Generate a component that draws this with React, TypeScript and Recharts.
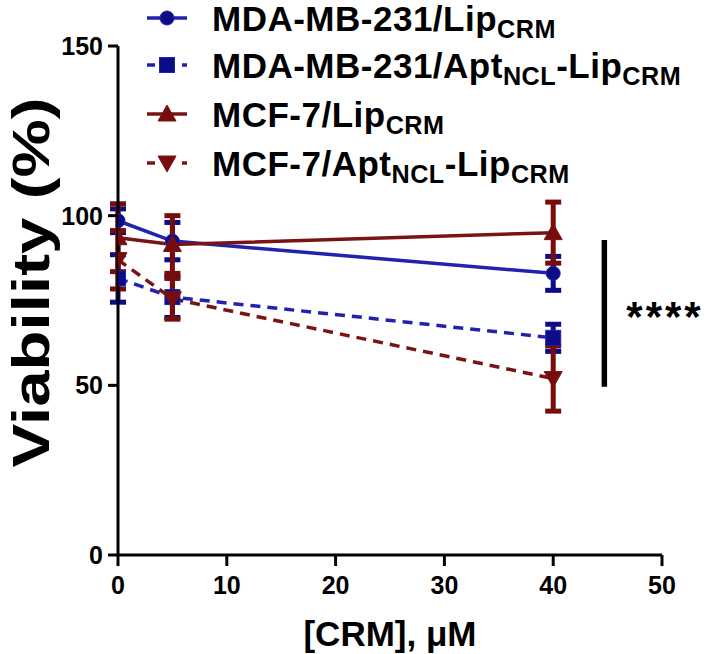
import React from 'react';
import { LineChart, Line, XAxis, YAxis, ErrorBar, ReferenceLine, Legend, Label } from 'recharts';

const concentrations = [0, 5, 40];
const mdaLip = [98.5, 92.5, 83];
const mdaLipErr = [3.5, 5.5, 5];
const mdaApt = [81.5, 76, 64];
const mdaAptErr = [7, 6, 4];
const mcfLip = [93.5, 91.5, 95];
const mcfLipErr = [10, 8.5, 9];
const mcfApt = [87, 75.5, 52];
const mcfAptErr = [8.6, 6, 9.6];

const xTicks = [0, 10, 20, 30, 40, 50];
const yTicks = [0, 50, 100, 150];

const sigX = 44.7;
const sigTop = 92.8;
const sigBottom = 49.6;
const sigText = '****';

const tableData = concentrations.map((c, i) => ({
  x: c,
  mdaLip: mdaLip[i],
  mdaLipErr: mdaLipErr[i],
  mdaApt: mdaApt[i],
  mdaAptErr: mdaAptErr[i],
  mcfLip: mcfLip[i],
  mcfLipErr: mcfLipErr[i],
  mcfApt: mcfApt[i],
  mcfAptErr: mcfAptErr[i],
}));

const BLUE_LINE = '#2222ae';
const BLUE_MARK = '#0c0c86';
const RED_LINE = '#7a1414';
const RED_MARK = '#760c0c';
const FONT = '"Liberation Sans", Arial, Helvetica, sans-serif';

type Shape = 'circle' | 'square' | 'up' | 'down';

const series: { key: string; shape: Shape; line: string; mark: string; dashed: boolean; label: [string, boolean][] }[] = [
  { key: 'mdaLip', shape: 'circle', line: BLUE_LINE, mark: BLUE_MARK, dashed: false, label: [['MDA-MB-231/Lip', false], ['CRM', true]] },
  { key: 'mdaApt', shape: 'square', line: BLUE_LINE, mark: BLUE_MARK, dashed: true, label: [['MDA-MB-231/Apt', false], ['NCL', true], ['-Lip', false], ['CRM', true]] },
  { key: 'mcfLip', shape: 'up', line: RED_LINE, mark: RED_MARK, dashed: false, label: [['MCF-7/Lip', false], ['CRM', true]] },
  { key: 'mcfApt', shape: 'down', line: RED_LINE, mark: RED_MARK, dashed: true, label: [['MCF-7/Apt', false], ['NCL', true], ['-Lip', false], ['CRM', true]] },
];

function Marker({ shape, cx, cy, fill, stroke }: { shape: Shape; cx: number; cy: number; fill: string; stroke: string }) {
  if (cx == null || cy == null) return null;
  if (shape === 'circle') return <circle cx={cx} cy={cy} r={7} fill={fill} stroke={stroke} strokeWidth={1} />;
  if (shape === 'square') return <rect x={cx - 7.5} y={cy - 7.5} width={15} height={15} fill={fill} stroke={stroke} strokeWidth={1} />;
  if (shape === 'up') return <path d={`M${cx},${cy - 9} L${cx + 9},${cy + 7} L${cx - 9},${cy + 7} Z`} fill={fill} stroke={stroke} strokeWidth={1} />;
  return <path d={`M${cx},${cy + 9} L${cx + 9},${cy - 7} L${cx - 9},${cy - 7} Z`} fill={fill} stroke={stroke} strokeWidth={1} />;
}

const legendRowCenters = [18, 65, 114, 163];
const ROW_H = 36;

function LegendContent() {
  return (
    <div style={{ position: 'relative', width: 708, height: 0 }}>
      {series.map((s, i) => (
        <div
          key={s.key}
          style={{
            position: 'absolute',
            left: 147,
            top: legendRowCenters[i] - ROW_H / 2,
            height: ROW_H,
            display: 'flex',
            alignItems: 'center',
            whiteSpace: 'nowrap',
          }}
        >
          <svg width={40} height={ROW_H} style={{ display: 'block' }}>
            {s.dashed ? (
              <>
                <line x1={0} y1={ROW_H / 2} x2={8} y2={ROW_H / 2} stroke={s.line} strokeWidth={3.5} />
                <line x1={35} y1={ROW_H / 2} x2={40} y2={ROW_H / 2} stroke={s.line} strokeWidth={3.5} />
              </>
            ) : (
              <line x1={0} y1={ROW_H / 2} x2={40} y2={ROW_H / 2} stroke={s.line} strokeWidth={3.5} />
            )}
            <Marker shape={s.shape} cx={20} cy={ROW_H / 2} fill={s.mark} stroke={s.line} />
          </svg>
          <span
            style={{
              marginLeft: 25,
              fontFamily: FONT,
              fontWeight: 'bold',
              fontSize: 35,
              letterSpacing: 0.5,
              lineHeight: 1,
              color: '#000',
            }}
          >
            {s.label.map(([t, sub], j) =>
              sub ? (
                <span key={j} style={{ fontSize: '0.72em', position: 'relative', top: '0.3em' }}>{t}</span>
              ) : (
                <span key={j}>{t}</span>
              )
            )}
          </span>
        </div>
      ))}
    </div>
  );
}

function YAxisTitle(props: any) {
  const vb = props.viewBox || {};
  const x = vb.x + 31;
  const y = vb.y + vb.height / 2 - 18;
  return (
    <text
      x={x}
      y={y}
      transform={`rotate(-90, ${x}, ${y})`}
      textAnchor="middle"
      dominantBaseline="central"
      fontFamily={FONT}
      fontWeight="bold"
      fontSize={52}
      textLength={370}
      lengthAdjust="spacingAndGlyphs"
      fill="#000"
    >
      Viability (%)
    </text>
  );
}

function XAxisTitle(props: any) {
  const vb = props.viewBox || {};
  const x = vb.x + vb.width / 2;
  const y = vb.y + 91;
  return (
    <text x={x} y={y} textAnchor="middle" fontFamily={FONT} fontWeight="bold" fontSize={35} fill="#000">
      [CRM], μM
    </text>
  );
}

function SigLabel(props: any) {
  const vb = props.viewBox || {};
  const x = vb.x + 22;
  const y = vb.y + (vb.height || 0) / 2 + 18;
  return (
    <text x={x} y={y} fontFamily={FONT} fontWeight="bold" fontSize={42} letterSpacing={3} fill="#000">
      {sigText}
    </text>
  );
}

const tickStyle = { fill: '#000', fontSize: 25, fontWeight: 'bold', fontFamily: FONT };

export default function App() {
  return (
    <div style={{ position: 'absolute', left: 0, top: 0, width: 708, height: 654, background: '#fff' }}>
      <LineChart width={708} height={654} data={tableData} margin={{ top: 46, right: 46, bottom: 0, left: 0 }}>
        <XAxis
          type="number"
          dataKey="x"
          domain={[0, 50]}
          ticks={xTicks}
          allowDataOverflow
          height={99}
          axisLine={{ stroke: '#000', strokeWidth: 3 }}
          tickLine={{ stroke: '#000', strokeWidth: 3 }}
          tickSize={11}
          tickMargin={10}
          tick={tickStyle}
        >
          <Label content={<XAxisTitle />} />
        </XAxis>
        <YAxis
          type="number"
          domain={[0, 150]}
          ticks={yTicks}
          width={118}
          axisLine={{ stroke: '#000', strokeWidth: 3 }}
          tickLine={{ stroke: '#000', strokeWidth: 3 }}
          tickSize={10}
          tickMargin={5}
          tick={tickStyle}
        >
          <Label content={<YAxisTitle />} />
        </YAxis>
        <Legend
          layout="vertical"
          align="center"
          verticalAlign="middle"
          content={<LegendContent />}
          wrapperStyle={{ top: 0, left: 0, width: 708, height: 0 }}
        />
        {series.map((s) => (
          <Line
            key={s.key}
            type="linear"
            dataKey={s.key}
            stroke={s.line}
            strokeWidth={3.5}
            strokeDasharray={s.dashed ? '10 7' : undefined}
            isAnimationActive={false}
            activeDot={false}
            dot={(p: any) => (
              <Marker key={`${s.key}-${p.index}`} shape={s.shape} cx={p.cx} cy={p.cy} fill={s.mark} stroke={s.line} />
            )}
          >
            <ErrorBar dataKey={`${s.key}Err`} direction="y" width={8} stroke={s.mark} strokeWidth={5} isAnimationActive={false} />
          </Line>
        ))}
        <ReferenceLine
          segment={[{ x: sigX, y: sigTop }, { x: sigX, y: sigBottom }]}
          stroke="#000"
          strokeWidth={5.5}
          label={<SigLabel />}
        />
      </LineChart>
    </div>
  );
}
